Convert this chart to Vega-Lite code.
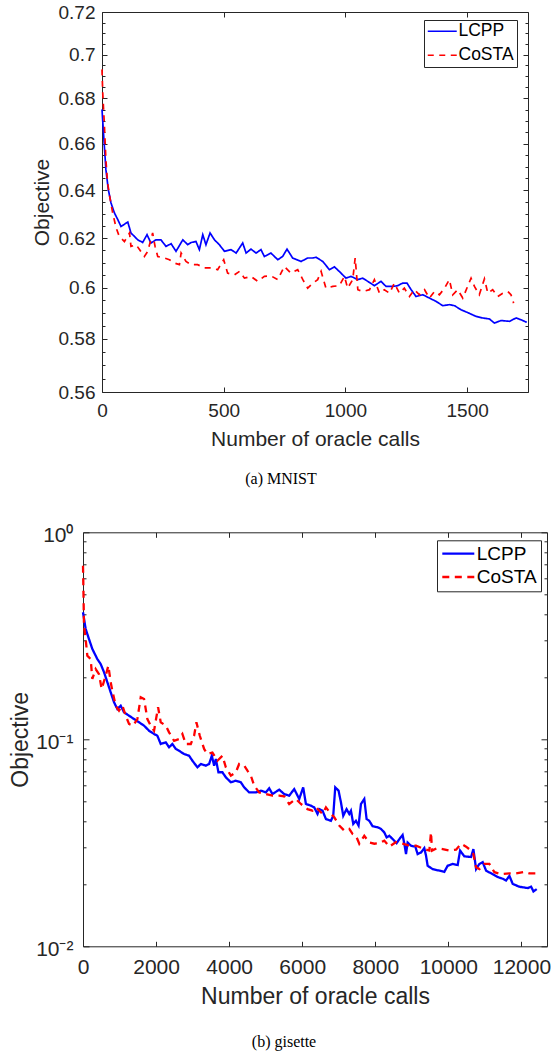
{
  "$schema": "https://vega.github.io/schema/vega-lite/v6.json",
  "background": "white",
  "padding": {"left": 9, "top": 3, "right": 0, "bottom": 0},
  "bounds": "flush",
  "center": true,
  "spacing": 140.3,
  "config": {
    "view": {"stroke": null},
    "axis": {"grid": false, "domainColor": "#262626", "domainWidth": 1, "tickColor": "#262626", "tickWidth": 1, "labelColor": "#262626", "titleColor": "#262626", "labelFont": "Liberation Sans", "titleFont": "Liberation Sans", "titleFontWeight": "normal", "labelOverlap": false, "labelFlush": false}
  },
  "resolve": {"scale": {"x": "independent", "y": "independent", "color": "independent", "strokeDash": "independent"}, "legend": {"color": "independent", "strokeDash": "independent"}},
  "datasets": {
    "mnist": [
      {"method":"LCPP","calls":0,"objective":0.6751},{"method":"LCPP","calls":7,"objective":0.6632},{"method":"LCPP","calls":16,"objective":0.6487},{"method":"LCPP","calls":26,"objective":0.6402},{"method":"LCPP","calls":37,"objective":0.6346},{"method":"LCPP","calls":51,"objective":0.6304},{"method":"LCPP","calls":65,"objective":0.6276},{"method":"LCPP","calls":78,"objective":0.6248},{"method":"LCPP","calls":106,"objective":0.6266},{"method":"LCPP","calls":119,"objective":0.6221},{"method":"LCPP","calls":147,"objective":0.6193},{"method":"LCPP","calls":167,"objective":0.6182},{"method":"LCPP","calls":185,"objective":0.6214},{"method":"LCPP","calls":201,"objective":0.618},{"method":"LCPP","calls":222,"objective":0.6193},{"method":"LCPP","calls":242,"objective":0.6193},{"method":"LCPP","calls":263,"objective":0.6166},{"method":"LCPP","calls":284,"objective":0.6177},{"method":"LCPP","calls":304,"objective":0.6146},{"method":"LCPP","calls":332,"objective":0.6193},{"method":"LCPP","calls":352,"objective":0.6173},{"method":"LCPP","calls":366,"objective":0.6182},{"method":"LCPP","calls":386,"objective":0.6186},{"method":"LCPP","calls":400,"objective":0.6153},{"method":"LCPP","calls":414,"objective":0.6214},{"method":"LCPP","calls":427,"objective":0.6173},{"method":"LCPP","calls":444,"objective":0.6221},{"method":"LCPP","calls":462,"objective":0.6193},{"method":"LCPP","calls":482,"objective":0.6173},{"method":"LCPP","calls":503,"objective":0.6146},{"method":"LCPP","calls":530,"objective":0.6153},{"method":"LCPP","calls":551,"objective":0.6139},{"method":"LCPP","calls":578,"objective":0.618},{"method":"LCPP","calls":592,"objective":0.6139},{"method":"LCPP","calls":612,"objective":0.6155},{"method":"LCPP","calls":633,"objective":0.6139},{"method":"LCPP","calls":653,"objective":0.6153},{"method":"LCPP","calls":667,"objective":0.6125},{"method":"LCPP","calls":694,"objective":0.6139},{"method":"LCPP","calls":722,"objective":0.6112},{"method":"LCPP","calls":742,"objective":0.6125},{"method":"LCPP","calls":760,"objective":0.6155},{"method":"LCPP","calls":783,"objective":0.6119},{"method":"LCPP","calls":818,"objective":0.6105},{"method":"LCPP","calls":845,"objective":0.6119},{"method":"LCPP","calls":866,"objective":0.6119},{"method":"LCPP","calls":879,"objective":0.6122},{"method":"LCPP","calls":907,"objective":0.6105},{"method":"LCPP","calls":934,"objective":0.6072},{"method":"LCPP","calls":955,"objective":0.6083},{"method":"LCPP","calls":982,"objective":0.6058},{"method":"LCPP","calls":1002,"objective":0.6038},{"method":"LCPP","calls":1023,"objective":0.6045},{"method":"LCPP","calls":1051,"objective":0.6032},{"method":"LCPP","calls":1071,"objective":0.6038},{"method":"LCPP","calls":1092,"objective":0.6025},{"method":"LCPP","calls":1119,"objective":0.6008},{"method":"LCPP","calls":1146,"objective":0.6025},{"method":"LCPP","calls":1167,"objective":0.6005},{"method":"LCPP","calls":1194,"objective":0.6005},{"method":"LCPP","calls":1215,"objective":0.6008},{"method":"LCPP","calls":1235,"objective":0.6018},{"method":"LCPP","calls":1253,"objective":0.6018},{"method":"LCPP","calls":1270,"objective":0.5992},{"method":"LCPP","calls":1290,"objective":0.5965},{"method":"LCPP","calls":1318,"objective":0.5972},{"method":"LCPP","calls":1345,"objective":0.5959},{"method":"LCPP","calls":1372,"objective":0.5946},{"method":"LCPP","calls":1400,"objective":0.5929},{"method":"LCPP","calls":1427,"objective":0.5933},{"method":"LCPP","calls":1448,"objective":0.5929},{"method":"LCPP","calls":1475,"objective":0.5913},{"method":"LCPP","calls":1502,"objective":0.5902},{"method":"LCPP","calls":1537,"objective":0.5887},{"method":"LCPP","calls":1564,"objective":0.5881},{"method":"LCPP","calls":1592,"objective":0.5877},{"method":"LCPP","calls":1612,"objective":0.5861},{"method":"LCPP","calls":1639,"objective":0.5871},{"method":"LCPP","calls":1674,"objective":0.5868},{"method":"LCPP","calls":1701,"objective":0.5881},{"method":"LCPP","calls":1721,"objective":0.5874},{"method":"LCPP","calls":1745,"objective":0.5864},
      {"method":"CoSTA","calls":0,"objective":0.6932},{"method":"CoSTA","calls":3,"objective":0.6826},{"method":"CoSTA","calls":10,"objective":0.6676},{"method":"CoSTA","calls":16,"objective":0.653},{"method":"CoSTA","calls":23,"objective":0.643},{"method":"CoSTA","calls":34,"objective":0.6359},{"method":"CoSTA","calls":44,"objective":0.6304},{"method":"CoSTA","calls":58,"objective":0.6242},{"method":"CoSTA","calls":71,"objective":0.6207},{"method":"CoSTA","calls":92,"objective":0.6186},{"method":"CoSTA","calls":113,"objective":0.6221},{"method":"CoSTA","calls":119,"objective":0.6166},{"method":"CoSTA","calls":140,"objective":0.6173},{"method":"CoSTA","calls":154,"objective":0.6153},{"method":"CoSTA","calls":174,"objective":0.6125},{"method":"CoSTA","calls":188,"objective":0.6146},{"method":"CoSTA","calls":208,"objective":0.6221},{"method":"CoSTA","calls":218,"objective":0.6166},{"method":"CoSTA","calls":229,"objective":0.6125},{"method":"CoSTA","calls":256,"objective":0.6119},{"method":"CoSTA","calls":277,"objective":0.6112},{"method":"CoSTA","calls":297,"objective":0.6099},{"method":"CoSTA","calls":318,"objective":0.6092},{"method":"CoSTA","calls":325,"objective":0.6139},{"method":"CoSTA","calls":345,"objective":0.6105},{"method":"CoSTA","calls":366,"objective":0.6092},{"method":"CoSTA","calls":393,"objective":0.6092},{"method":"CoSTA","calls":421,"objective":0.6079},{"method":"CoSTA","calls":448,"objective":0.6079},{"method":"CoSTA","calls":475,"objective":0.6072},{"method":"CoSTA","calls":500,"objective":0.6112},{"method":"CoSTA","calls":516,"objective":0.6058},{"method":"CoSTA","calls":544,"objective":0.6051},{"method":"CoSTA","calls":565,"objective":0.6065},{"method":"CoSTA","calls":585,"objective":0.6038},{"method":"CoSTA","calls":612,"objective":0.6045},{"method":"CoSTA","calls":640,"objective":0.6025},{"method":"CoSTA","calls":667,"objective":0.6045},{"method":"CoSTA","calls":694,"objective":0.6047},{"method":"CoSTA","calls":722,"objective":0.6032},{"method":"CoSTA","calls":749,"objective":0.6085},{"method":"CoSTA","calls":776,"objective":0.6058},{"method":"CoSTA","calls":804,"objective":0.6072},{"method":"CoSTA","calls":825,"objective":0.6032},{"method":"CoSTA","calls":845,"objective":0.5998},{"method":"CoSTA","calls":866,"objective":0.6018},{"method":"CoSTA","calls":886,"objective":0.6032},{"method":"CoSTA","calls":900,"objective":0.6065},{"method":"CoSTA","calls":920,"objective":0.5998},{"method":"CoSTA","calls":948,"objective":0.6005},{"method":"CoSTA","calls":975,"objective":0.6008},{"method":"CoSTA","calls":996,"objective":0.6045},{"method":"CoSTA","calls":1009,"objective":0.5998},{"method":"CoSTA","calls":1030,"objective":0.6032},{"method":"CoSTA","calls":1040,"objective":0.6119},{"method":"CoSTA","calls":1051,"objective":0.5992},{"method":"CoSTA","calls":1071,"objective":0.5985},{"method":"CoSTA","calls":1099,"objective":0.5992},{"method":"CoSTA","calls":1119,"objective":0.6032},{"method":"CoSTA","calls":1140,"objective":0.5978},{"method":"CoSTA","calls":1160,"objective":0.5992},{"method":"CoSTA","calls":1181,"objective":0.5978},{"method":"CoSTA","calls":1201,"objective":0.6018},{"method":"CoSTA","calls":1222,"objective":0.5978},{"method":"CoSTA","calls":1242,"objective":0.5998},{"method":"CoSTA","calls":1263,"objective":0.5965},{"method":"CoSTA","calls":1283,"objective":0.5992},{"method":"CoSTA","calls":1304,"objective":0.5972},{"method":"CoSTA","calls":1325,"objective":0.5992},{"method":"CoSTA","calls":1345,"objective":0.5959},{"method":"CoSTA","calls":1366,"objective":0.5985},{"method":"CoSTA","calls":1386,"objective":0.5972},{"method":"CoSTA","calls":1407,"objective":0.5998},{"method":"CoSTA","calls":1427,"objective":0.6032},{"method":"CoSTA","calls":1441,"objective":0.5972},{"method":"CoSTA","calls":1461,"objective":0.5992},{"method":"CoSTA","calls":1482,"objective":0.5959},{"method":"CoSTA","calls":1502,"objective":0.6005},{"method":"CoSTA","calls":1516,"objective":0.6038},{"method":"CoSTA","calls":1530,"objective":0.6005},{"method":"CoSTA","calls":1550,"objective":0.5972},{"method":"CoSTA","calls":1571,"objective":0.6035},{"method":"CoSTA","calls":1585,"objective":0.5978},{"method":"CoSTA","calls":1605,"objective":0.5992},{"method":"CoSTA","calls":1626,"objective":0.5965},{"method":"CoSTA","calls":1646,"objective":0.5978},{"method":"CoSTA","calls":1667,"objective":0.5985},{"method":"CoSTA","calls":1680,"objective":0.5972},{"method":"CoSTA","calls":1691,"objective":0.5939}
    ],
    "gisette": [
      {"method":"LCPP","calls":0,"objective":0.411},{"method":"LCPP","calls":73,"objective":0.341},{"method":"LCPP","calls":164,"objective":0.305},{"method":"LCPP","calls":256,"objective":0.273},{"method":"LCPP","calls":393,"objective":0.244},{"method":"LCPP","calls":484,"objective":0.231},{"method":"LCPP","calls":575,"objective":0.211},{"method":"LCPP","calls":667,"objective":0.1886},{"method":"LCPP","calls":758,"objective":0.1687},{"method":"LCPP","calls":849,"objective":0.151},{"method":"LCPP","calls":941,"objective":0.14},{"method":"LCPP","calls":1032,"objective":0.1453},{"method":"LCPP","calls":1123,"objective":0.135},{"method":"LCPP","calls":1260,"objective":0.13},{"method":"LCPP","calls":1397,"objective":0.1253},{"method":"LCPP","calls":1534,"objective":0.1208},{"method":"LCPP","calls":1671,"objective":0.1164},{"method":"LCPP","calls":1808,"objective":0.11},{"method":"LCPP","calls":1945,"objective":0.1061},{"method":"LCPP","calls":2036,"objective":0.104},{"method":"LCPP","calls":2128,"objective":0.0949},{"method":"LCPP","calls":2265,"objective":0.0967},{"method":"LCPP","calls":2356,"objective":0.0915},{"method":"LCPP","calls":2447,"objective":0.0949},{"method":"LCPP","calls":2540,"objective":0.0898},{"method":"LCPP","calls":2630,"objective":0.088},{"method":"LCPP","calls":2767,"objective":0.0849},{"method":"LCPP","calls":2904,"objective":0.0833},{"method":"LCPP","calls":2995,"objective":0.0788},{"method":"LCPP","calls":3132,"objective":0.0732},{"method":"LCPP","calls":3225,"objective":0.076},{"method":"LCPP","calls":3362,"objective":0.0746},{"method":"LCPP","calls":3452,"objective":0.076},{"method":"LCPP","calls":3526,"objective":0.0833},{"method":"LCPP","calls":3589,"objective":0.0746},{"method":"LCPP","calls":3636,"objective":0.0803},{"method":"LCPP","calls":3707,"objective":0.0693},{"method":"LCPP","calls":3816,"objective":0.0693},{"method":"LCPP","calls":3910,"objective":0.0655},{"method":"LCPP","calls":4047,"objective":0.062},{"method":"LCPP","calls":4184,"objective":0.0631},{"method":"LCPP","calls":4321,"objective":0.062},{"method":"LCPP","calls":4411,"objective":0.0586},{"method":"LCPP","calls":4548,"objective":0.0554},{"method":"LCPP","calls":4732,"objective":0.0554},{"method":"LCPP","calls":4868,"objective":0.0565},{"method":"LCPP","calls":5005,"objective":0.0554},{"method":"LCPP","calls":5096,"objective":0.058},{"method":"LCPP","calls":5186,"objective":0.0544},{"method":"LCPP","calls":5370,"objective":0.0571},{"method":"LCPP","calls":5507,"objective":0.0544},{"method":"LCPP","calls":5644,"objective":0.0534},{"method":"LCPP","calls":5781,"objective":0.0575},{"method":"LCPP","calls":5918,"objective":0.0515},{"method":"LCPP","calls":6027,"objective":0.0586},{"method":"LCPP","calls":6101,"objective":0.0487},{"method":"LCPP","calls":6238,"objective":0.0478},{"method":"LCPP","calls":6329,"objective":0.0469},{"method":"LCPP","calls":6419,"objective":0.0436},{"method":"LCPP","calls":6466,"objective":0.046},{"method":"LCPP","calls":6556,"objective":0.0452},{"method":"LCPP","calls":6649,"objective":0.0412},{"method":"LCPP","calls":6786,"objective":0.0404},{"method":"LCPP","calls":6849,"objective":0.0427},{"method":"LCPP","calls":6904,"objective":0.0586},{"method":"LCPP","calls":6995,"objective":0.0565},{"method":"LCPP","calls":7060,"objective":0.0496},{"method":"LCPP","calls":7123,"objective":0.0427},{"method":"LCPP","calls":7214,"objective":0.046},{"method":"LCPP","calls":7288,"objective":0.0436},{"method":"LCPP","calls":7334,"objective":0.0452},{"method":"LCPP","calls":7397,"objective":0.039},{"method":"LCPP","calls":7471,"objective":0.0404},{"method":"LCPP","calls":7542,"objective":0.0383},{"method":"LCPP","calls":7608,"objective":0.0487},{"method":"LCPP","calls":7699,"objective":0.0515},{"method":"LCPP","calls":7762,"objective":0.0412},{"method":"LCPP","calls":7836,"objective":0.0404},{"method":"LCPP","calls":7926,"objective":0.038},{"method":"LCPP","calls":8063,"objective":0.0376},{"method":"LCPP","calls":8156,"objective":0.0369},{"method":"LCPP","calls":8247,"objective":0.0355},{"method":"LCPP","calls":8310,"objective":0.0336},{"method":"LCPP","calls":8384,"objective":0.0342},{"method":"LCPP","calls":8474,"objective":0.033},{"method":"LCPP","calls":8584,"objective":0.0315},{"method":"LCPP","calls":8677,"objective":0.0333},{"method":"LCPP","calls":8748,"objective":0.0345},{"method":"LCPP","calls":8795,"objective":0.0313},{"method":"LCPP","calls":8841,"objective":0.0279},{"method":"LCPP","calls":8885,"objective":0.0317},{"method":"LCPP","calls":8978,"objective":0.0306},{"method":"LCPP","calls":9096,"objective":0.0303},{"method":"LCPP","calls":9159,"objective":0.0279},{"method":"LCPP","calls":9252,"objective":0.0284},{"method":"LCPP","calls":9342,"objective":0.0298},{"method":"LCPP","calls":9389,"objective":0.0274},{"method":"LCPP","calls":9433,"objective":0.0245},{"method":"LCPP","calls":9570,"objective":0.0236},{"method":"LCPP","calls":9753,"objective":0.0232},{"method":"LCPP","calls":9890,"objective":0.0229},{"method":"LCPP","calls":9981,"objective":0.0245},{"method":"LCPP","calls":10118,"objective":0.025},{"method":"LCPP","calls":10255,"objective":0.0247},{"method":"LCPP","calls":10321,"objective":0.029},{"method":"LCPP","calls":10438,"objective":0.0272},{"method":"LCPP","calls":10622,"objective":0.027},{"method":"LCPP","calls":10685,"objective":0.0295},{"method":"LCPP","calls":10759,"objective":0.0236},{"method":"LCPP","calls":10849,"objective":0.025},{"method":"LCPP","calls":10940,"objective":0.0255},{"method":"LCPP","calls":11033,"objective":0.0232},{"method":"LCPP","calls":11214,"objective":0.0223},{"method":"LCPP","calls":11351,"objective":0.0216},{"method":"LCPP","calls":11488,"objective":0.0212},{"method":"LCPP","calls":11581,"objective":0.0208},{"method":"LCPP","calls":11671,"objective":0.0219},{"method":"LCPP","calls":11762,"objective":0.02},{"method":"LCPP","calls":11945,"objective":0.0194},{"method":"LCPP","calls":12173,"objective":0.0191},{"method":"LCPP","calls":12266,"objective":0.0194},{"method":"LCPP","calls":12329,"objective":0.0184},{"method":"LCPP","calls":12419,"objective":0.0189},
      {"method":"CoSTA","calls":0,"objective":0.69},{"method":"CoSTA","calls":10,"objective":0.552},{"method":"CoSTA","calls":27,"objective":0.354},{"method":"CoSTA","calls":73,"objective":0.305},{"method":"CoSTA","calls":118,"objective":0.2535},{"method":"CoSTA","calls":210,"objective":0.244},{"method":"CoSTA","calls":256,"objective":0.1956},{"method":"CoSTA","calls":347,"objective":0.2183},{"method":"CoSTA","calls":438,"objective":0.2062},{"method":"CoSTA","calls":511,"objective":0.175},{"method":"CoSTA","calls":621,"objective":0.203},{"method":"CoSTA","calls":694,"objective":0.2268},{"method":"CoSTA","calls":758,"objective":0.1886},{"method":"CoSTA","calls":803,"objective":0.1718},{"method":"CoSTA","calls":895,"objective":0.1453},{"method":"CoSTA","calls":986,"objective":0.1375},{"method":"CoSTA","calls":1078,"objective":0.1453},{"method":"CoSTA","calls":1169,"objective":0.13},{"method":"CoSTA","calls":1260,"objective":0.1186},{"method":"CoSTA","calls":1370,"objective":0.1164},{"method":"CoSTA","calls":1488,"objective":0.1253},{"method":"CoSTA","calls":1580,"objective":0.1596},{"method":"CoSTA","calls":1671,"objective":0.1566},{"method":"CoSTA","calls":1762,"objective":0.1253},{"method":"CoSTA","calls":1854,"objective":0.1164},{"method":"CoSTA","calls":1945,"objective":0.11},{"method":"CoSTA","calls":2055,"objective":0.1428},{"method":"CoSTA","calls":2128,"objective":0.1208},{"method":"CoSTA","calls":2265,"objective":0.1164},{"method":"CoSTA","calls":2356,"objective":0.108},{"method":"CoSTA","calls":2493,"objective":0.0984},{"method":"CoSTA","calls":2630,"objective":0.1003},{"method":"CoSTA","calls":2721,"objective":0.1061},{"method":"CoSTA","calls":2814,"objective":0.0949},{"method":"CoSTA","calls":2951,"objective":0.0949},{"method":"CoSTA","calls":3041,"objective":0.104},{"method":"CoSTA","calls":3104,"objective":0.1208},{"method":"CoSTA","calls":3197,"objective":0.104},{"method":"CoSTA","calls":3315,"objective":0.0898},{"method":"CoSTA","calls":3405,"objective":0.0849},{"method":"CoSTA","calls":3542,"objective":0.0863},{"method":"CoSTA","calls":3679,"objective":0.0788},{"method":"CoSTA","calls":3816,"objective":0.0833},{"method":"CoSTA","calls":3910,"objective":0.0732},{"method":"CoSTA","calls":4047,"objective":0.0667},{"method":"CoSTA","calls":4184,"objective":0.0693},{"method":"CoSTA","calls":4274,"objective":0.076},{"method":"CoSTA","calls":4411,"objective":0.0746},{"method":"CoSTA","calls":4501,"objective":0.0705},{"method":"CoSTA","calls":4595,"objective":0.0667},{"method":"CoSTA","calls":4685,"objective":0.0597},{"method":"CoSTA","calls":4822,"objective":0.0554},{"method":"CoSTA","calls":5005,"objective":0.0544},{"method":"CoSTA","calls":5186,"objective":0.0534},{"method":"CoSTA","calls":5370,"objective":0.0534},{"method":"CoSTA","calls":5507,"objective":0.053},{"method":"CoSTA","calls":5644,"objective":0.0487},{"method":"CoSTA","calls":5827,"objective":0.0515},{"method":"CoSTA","calls":5964,"objective":0.0487},{"method":"CoSTA","calls":6145,"objective":0.046},{"method":"CoSTA","calls":6282,"objective":0.0452},{"method":"CoSTA","calls":6375,"objective":0.0469},{"method":"CoSTA","calls":6556,"objective":0.0436},{"method":"CoSTA","calls":6649,"objective":0.0469},{"method":"CoSTA","calls":6786,"objective":0.0436},{"method":"CoSTA","calls":6877,"objective":0.042},{"method":"CoSTA","calls":7014,"objective":0.0383},{"method":"CoSTA","calls":7151,"objective":0.0362},{"method":"CoSTA","calls":7288,"objective":0.0369},{"method":"CoSTA","calls":7378,"objective":0.0349},{"method":"CoSTA","calls":7471,"objective":0.0342},{"method":"CoSTA","calls":7562,"objective":0.0313},{"method":"CoSTA","calls":7699,"objective":0.0342},{"method":"CoSTA","calls":7836,"objective":0.0317},{"method":"CoSTA","calls":7973,"objective":0.0313},{"method":"CoSTA","calls":8110,"objective":0.0315},{"method":"CoSTA","calls":8247,"objective":0.0324},{"method":"CoSTA","calls":8384,"objective":0.0303},{"method":"CoSTA","calls":8567,"objective":0.0319},{"method":"CoSTA","calls":8748,"objective":0.0313},{"method":"CoSTA","calls":8932,"objective":0.0306},{"method":"CoSTA","calls":9115,"objective":0.0306},{"method":"CoSTA","calls":9342,"objective":0.0295},{"method":"CoSTA","calls":9479,"objective":0.029},{"method":"CoSTA","calls":9525,"objective":0.0355},{"method":"CoSTA","calls":9553,"objective":0.029},{"method":"CoSTA","calls":9690,"objective":0.0298},{"method":"CoSTA","calls":9845,"objective":0.0295},{"method":"CoSTA","calls":10027,"objective":0.029},{"method":"CoSTA","calls":10211,"objective":0.0293},{"method":"CoSTA","calls":10348,"objective":0.0313},{"method":"CoSTA","calls":10485,"objective":0.0303},{"method":"CoSTA","calls":10622,"objective":0.029},{"method":"CoSTA","calls":10685,"objective":0.0279},{"method":"CoSTA","calls":10759,"objective":0.0241},{"method":"CoSTA","calls":10849,"objective":0.0236},{"method":"CoSTA","calls":10986,"objective":0.025},{"method":"CoSTA","calls":11123,"objective":0.025},{"method":"CoSTA","calls":11260,"objective":0.0228},{"method":"CoSTA","calls":11444,"objective":0.0223},{"method":"CoSTA","calls":11671,"objective":0.0225},{"method":"CoSTA","calls":11855,"objective":0.0225},{"method":"CoSTA","calls":12082,"objective":0.0229},{"method":"CoSTA","calls":12219,"objective":0.0225},{"method":"CoSTA","calls":12403,"objective":0.0225}
    ]
  },
  "vconcat": [
    {
      "width": 426,
      "height": 380,
      "data": {"name": "mnist"},
      "title": {"text": "(a) MNIST", "orient": "bottom", "anchor": "middle", "font": "Liberation Serif", "fontSize": 16, "fontWeight": "normal", "color": "black", "dx": -34, "offset": 22},
      "resolve": {"axis": {"x": "independent", "y": "independent"}},
      "layer": [
        {
          "mark": {"type": "line", "strokeWidth": 1.7},
          "encoding": {
            "x": {"field": "calls", "type": "quantitative", "scale": {"domain": [0, 1750], "nice": false, "zero": false},
                  "axis": {"orient": "bottom", "values": [0, 500, 1000, 1500], "format": "d", "tickSize": -5, "labelFontSize": 19, "labelPadding": 14, "title": "Number of oracle calls", "titleFontSize": 21, "titlePadding": 8}},
            "y": {"field": "objective", "type": "quantitative", "scale": {"type": "log", "domain": [0.56, 0.72], "nice": false},
                  "axis": {"orient": "left", "values": [0.56, 0.58, 0.6, 0.62, 0.64, 0.66, 0.68, 0.7, 0.72], "format": ".2~f", "tickSize": -5, "labelFontSize": 19, "labelPadding": 12, "title": "Objective", "titleFontSize": 21, "titlePadding": 6}},
            "color": {"field": "method", "type": "nominal", "scale": {"domain": ["LCPP", "CoSTA"], "range": ["#0000ff", "#ff0000"]},
                      "legend": {"orient": "none", "legendX": 322, "legendY": 8, "title": null, "symbolType": "M-2,0H2", "symbolSize": 210, "symbolStrokeWidth": 1.7, "symbolOffset": 7, "labelOffset": 7.5, "labelFontSize": 17.5, "labelFont": "Liberation Sans", "labelColor": "black", "padding": 2.5, "rowPadding": 5, "columnPadding": 0, "fillColor": "white", "strokeColor": "#262626", "cornerRadius": 0}},
            "strokeDash": {"field": "method", "type": "nominal", "scale": {"domain": ["LCPP", "CoSTA"], "range": [[1, 0], [6, 5.5]]},
                      "legend": {"orient": "none", "legendX": 322, "legendY": 8, "title": null, "symbolType": "M-2,0H2", "symbolSize": 210, "symbolStrokeWidth": 1.7, "symbolOffset": 7, "labelOffset": 7.5, "labelFontSize": 17.5, "labelFont": "Liberation Sans", "labelColor": "black", "padding": 2.5, "rowPadding": 5, "columnPadding": 0, "fillColor": "white", "strokeColor": "#262626", "cornerRadius": 0}}
          }
        },
        {
          "mark": {"type": "line", "opacity": 0},
          "encoding": {
            "x": {"field": "calls", "type": "quantitative", "axis": {"orient": "top", "values": [0, 500, 1000, 1500], "tickSize": -5, "labels": false, "title": null}},
            "y": {"field": "objective", "type": "quantitative", "axis": {"orient": "right", "values": [0.56, 0.58, 0.6, 0.62, 0.64, 0.66, 0.68, 0.7, 0.72], "tickSize": -5, "labels": false, "title": null}}
          }
        },
        {
          "mark": {"type": "line", "opacity": 0},
          "encoding": {
            "x": {"field": "calls", "type": "quantitative", "axis": null},
            "y": {"field": "objective", "type": "quantitative", "axis": {"orient": "left", "values": [0.565, 0.57, 0.575, 0.585, 0.59, 0.595, 0.605, 0.61, 0.615, 0.625, 0.63, 0.635, 0.645, 0.65, 0.655, 0.665, 0.67, 0.675, 0.685, 0.69, 0.695, 0.705, 0.71, 0.715], "tickSize": -3, "labels": false, "domain": false, "title": null}}
          }
        },
        {
          "mark": {"type": "line", "opacity": 0},
          "encoding": {
            "x": {"field": "calls", "type": "quantitative", "axis": null},
            "y": {"field": "objective", "type": "quantitative", "axis": {"orient": "right", "values": [0.565, 0.57, 0.575, 0.585, 0.59, 0.595, 0.605, 0.61, 0.615, 0.625, 0.63, 0.635, 0.645, 0.65, 0.655, 0.665, 0.67, 0.675, 0.685, 0.69, 0.695, 0.705, 0.71, 0.715], "tickSize": -3, "labels": false, "domain": false, "title": null}}
          }
        }
      ]
    },
    {
      "width": 464,
      "height": 414,
      "data": {"name": "gisette"},
      "title": {"text": "(b) gisette", "orient": "bottom", "anchor": "middle", "font": "Liberation Serif", "fontSize": 16, "fontWeight": "normal", "color": "black", "dx": -31, "offset": 26},
      "resolve": {"axis": {"x": "independent", "y": "independent"}},
      "layer": [
        {
          "mark": {"type": "line", "strokeWidth": 2.3},
          "encoding": {
            "x": {"field": "calls", "type": "quantitative", "scale": {"domain": [0, 12700], "nice": false, "zero": false},
                  "axis": {"orient": "bottom", "values": [0, 2000, 4000, 6000, 8000, 10000, 12000], "format": "d", "tickSize": -5, "labelFontSize": 21, "labelPadding": 15, "title": "Number of oracle calls", "titleFontSize": 23, "titlePadding": 8}},
            "y": {"field": "objective", "type": "quantitative", "scale": {"type": "log", "domain": [0.01, 1], "nice": false},
                  "axis": {"orient": "left", "values": [0.01, 0.1, 1], "labelExpr": "datum.value > 0.5 ? '10⁰' : (datum.value > 0.05 ? '10⁻¹' : '10⁻²')", "tickSize": -6, "labelFontSize": 21, "labelPadding": 16, "labelOffset": 3, "title": "Objective", "titleFontSize": 23, "titlePadding": 3}},
            "color": {"field": "method", "type": "nominal", "scale": {"domain": ["LCPP", "CoSTA"], "range": ["#0000ff", "#ff0000"]},
                      "legend": {"orient": "none", "legendX": 354, "legendY": 8, "title": null, "symbolType": "M-2,0H2", "symbolSize": 256, "symbolStrokeWidth": 2.3, "symbolOffset": 8, "labelOffset": 9, "labelFontSize": 19, "labelFont": "Liberation Sans", "labelColor": "black", "padding": 3.8, "rowPadding": 3.4, "columnPadding": 0, "fillColor": "white", "strokeColor": "#262626", "cornerRadius": 0}},
            "strokeDash": {"field": "method", "type": "nominal", "scale": {"domain": ["LCPP", "CoSTA"], "range": [[1, 0], [7, 5.5]]},
                      "legend": {"orient": "none", "legendX": 354, "legendY": 8, "title": null, "symbolType": "M-2,0H2", "symbolSize": 256, "symbolStrokeWidth": 2.3, "symbolOffset": 8, "labelOffset": 9, "labelFontSize": 19, "labelFont": "Liberation Sans", "labelColor": "black", "padding": 3.8, "rowPadding": 3.4, "columnPadding": 0, "fillColor": "white", "strokeColor": "#262626", "cornerRadius": 0}}
          }
        },
        {
          "mark": {"type": "line", "opacity": 0},
          "encoding": {
            "x": {"field": "calls", "type": "quantitative", "axis": {"orient": "top", "values": [0, 2000, 4000, 6000, 8000, 10000, 12000], "tickSize": -5, "labels": false, "title": null}},
            "y": {"field": "objective", "type": "quantitative", "axis": {"orient": "right", "values": [0.01, 0.1, 1], "tickSize": -6, "labels": false, "title": null}}
          }
        },
        {
          "mark": {"type": "line", "opacity": 0},
          "encoding": {
            "x": {"field": "calls", "type": "quantitative", "axis": null},
            "y": {"field": "objective", "type": "quantitative", "axis": {"orient": "left", "values": [0.02, 0.03, 0.04, 0.05, 0.06, 0.07, 0.08, 0.09, 0.2, 0.3, 0.4, 0.5, 0.6, 0.7, 0.8, 0.9], "tickSize": -3, "labels": false, "domain": false, "title": null}}
          }
        },
        {
          "mark": {"type": "line", "opacity": 0},
          "encoding": {
            "x": {"field": "calls", "type": "quantitative", "axis": null},
            "y": {"field": "objective", "type": "quantitative", "axis": {"orient": "right", "values": [0.02, 0.03, 0.04, 0.05, 0.06, 0.07, 0.08, 0.09, 0.2, 0.3, 0.4, 0.5, 0.6, 0.7, 0.8, 0.9], "tickSize": -3, "labels": false, "domain": false, "title": null}}
          }
        }
      ]
    }
  ]
}
